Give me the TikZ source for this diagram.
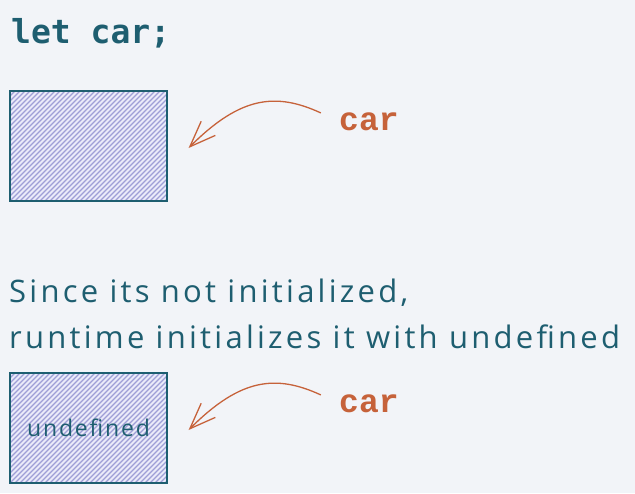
\documentclass[tikz,border=0pt]{standalone}
\usepackage{fontspec}
\usepackage{xcolor}
\usepackage{tikz}
\usetikzlibrary{arrows.meta}
\setmainfont{Open Sans}
\newfontfamily\codefont{DejaVu Sans Mono}
\newfontfamily\namefont{Liberation Mono}
\definecolor{paper}{RGB}{242,244,248}
\definecolor{ink}{RGB}{30,94,112}
\definecolor{rust}{RGB}{198,98,58}
\definecolor{lilac}{RGB}{234,234,249}
\definecolor{hatch}{RGB}{158,158,214}

\begin{document}
\begin{tikzpicture}[x=1pt, y=1pt,
    code/.style={text=ink, font=\codefont\bfseries\fontsize{33}{33}\selectfont, inner sep=0pt},
    varname/.style={text=rust, font=\namefont\bfseries\fontsize{33}{33}\selectfont, inner sep=0pt},
    cell/.style={draw=ink, line width=1.2pt, fill=lilac, minimum width=157pt, minimum height=110pt,
        path picture={\foreach \d in {-115,-110,...,160}
            \draw[hatch, line width=1.1pt] ([xshift=\d pt]path picture bounding box.south west) -- ++(120,120);}},
    note/.style={text=ink, font=\fontsize{31}{46}\selectfont\addfontfeature{LetterSpace=10.5}, inner sep=0pt, align=left},
    pointer/.style={draw=rust, line width=1.3pt, shorten <=20pt,
        -{Straight Barb[length=26pt, width=20pt, line width=1.3pt]}}]
    \fill[paper] (0,0) rectangle (635,-493);
    \useasboundingbox (0,0) rectangle (635,-493);

    % declaration
    \node[code, anchor=base west] (decl) at (11,-43) {let car;};
    \node[cell] (box1) at (88.5,-146) {};
    \node[varname, anchor=base west] (name1) at (339,-130) {car};
    \draw[pointer] (name1.west) .. controls +(-63,29) and +(52,52) .. ([xshift=21pt, yshift=-2pt]box1.east);

    % after initialization
    \node[note, anchor=north west] (note) at (9,-279) {Since its not initialized,\\runtime initializes it with undefined};
    \node[cell, text=ink, font=\fontsize{23}{23}\selectfont\addfontfeature{LetterSpace=8}] (box2) at (88.5,-428) {undefined};
    \node[varname, anchor=base west] (name2) at (339,-412) {car};
    \draw[pointer] (name2.west) .. controls +(-63,29) and +(52,52) .. ([xshift=21pt, yshift=-2pt]box2.east);
\end{tikzpicture}
\end{document}
